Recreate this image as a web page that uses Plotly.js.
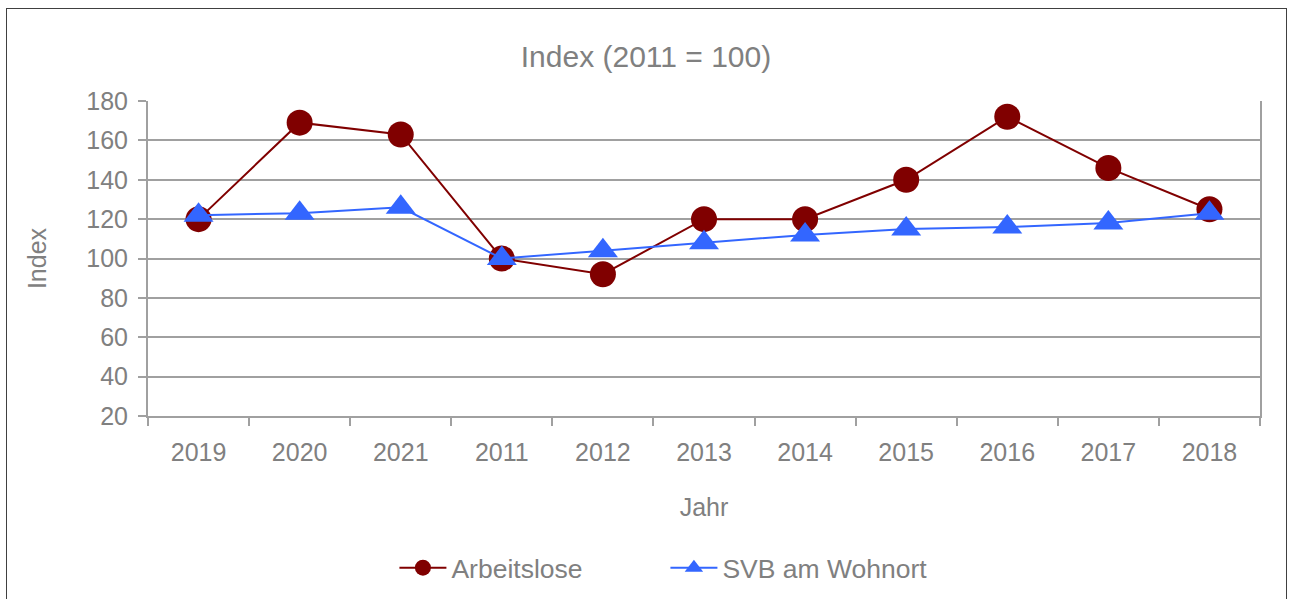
<!DOCTYPE html>
<html>
<head>
<meta charset="utf-8">
<script src="https://cdn.plot.ly/plotly-3.0.1.min.js"></script>
<style>
html,body{margin:0;padding:0;background:#fff;}
#frame{position:absolute;left:6px;top:8px;width:1281px;height:600px;border:1px solid #404040;box-sizing:border-box;}
#chart{position:absolute;left:0;top:0;width:1292px;height:599px;}
</style>
</head>
<body>
<div id="frame"></div>
<div id="chart"></div>
<script>
const years = ['2019','2020','2021','2011','2012','2013','2014','2015','2016','2017','2018'];
const arbeitslose = [120, 169, 163, 100, 92, 120, 120, 140, 172, 146, 125];
const svb = [122, 123, 126, 100, 104, 108, 112, 115, 116, 118, 123];
const yTicks = [20, 40, 60, 80, 100, 120, 140, 160, 180];

const grey = '#808080';
const lineGrey = '#a0a0a0';
const fontFam = 'Liberation Sans, Arial, sans-serif';

const traces = [
  {
    x: years, y: arbeitslose, name: 'Arbeitslose', type: 'scatter', mode: 'lines+markers',
    line: {color: '#800000', width: 2},
    marker: {symbol: 'circle', size: 26, color: '#800000'}
  },
  {
    x: years, y: svb, name: 'SVB am Wohnort', type: 'scatter', mode: 'lines+markers',
    line: {color: '#3366ff', width: 2},
    marker: {symbol: 'triangle-up', size: 26, color: '#3366ff'}
  }
];

const layout = {
  width: 1292, height: 599,
  margin: {l: 148, r: 32, t: 101, b: 183, autoexpand: false},
  paper_bgcolor: 'rgba(0,0,0,0)',
  plot_bgcolor: '#fff',
  font: {family: fontFam, color: grey, size: 25},
  title: {text: 'Index (2011 = 100)', font: {size: 30, color: grey, family: fontFam}, x: 0.5, xanchor: 'center', y: 0.905, yanchor: 'middle'},
  xaxis: {
    type: 'category', categoryorder: 'array', categoryarray: years,
    range: [-0.5, years.length - 0.5], automargin: false,
    tickson: 'boundaries', ticks: 'outside', ticklen: 8, tickwidth: 2, tickcolor: lineGrey,
    showline: true, linecolor: lineGrey, linewidth: 2,
    showgrid: false, zeroline: false,
    tickfont: {size: 25, color: grey},
    ticklabelstandoff: 13,
    title: {text: 'Jahr', font: {size: 25, color: grey}, standoff: 33},
    fixedrange: true
  },
  yaxis: {
    range: [20, 180], tickvals: yTicks, ticktext: yTicks.map(String), automargin: false,
    ticks: 'outside', ticklen: 8, tickwidth: 2, tickcolor: lineGrey,
    showline: true, mirror: true, linecolor: lineGrey, linewidth: 2,
    showgrid: true, gridcolor: lineGrey, gridwidth: 2, zeroline: false,
    tickfont: {size: 25, color: grey},
    ticklabelstandoff: 5,
    title: {text: 'Index', font: {size: 25, color: grey}, standoff: 33},
    fixedrange: true
  },
  showlegend: true,
  legend: {
    orientation: 'h', x: 0.2216, xanchor: 'left', y: -0.4825, yanchor: 'middle',
    font: {size: 26.5, color: grey}, itemwidth: 47, entrywidth: 209, entrywidthmode: 'pixels',
    bgcolor: 'rgba(0,0,0,0)'
  }
};

Plotly.newPlot('chart', traces, layout, {displayModeBar: false, staticPlot: true});
</script>
</body>
</html>
